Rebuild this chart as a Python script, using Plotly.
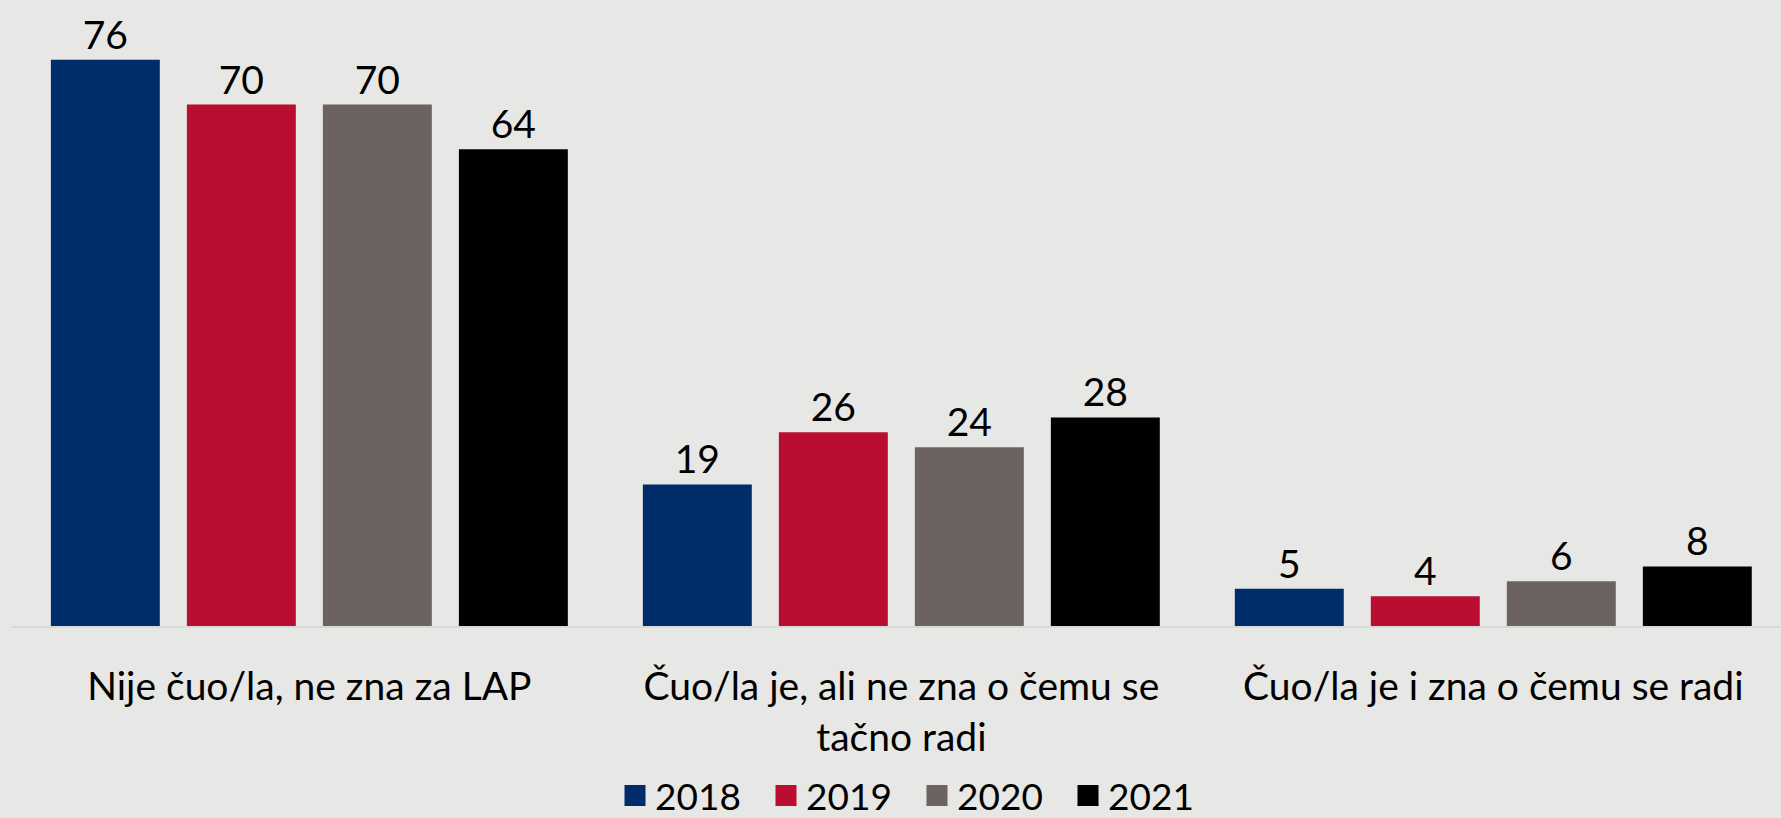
import plotly.graph_objects as go

categories = ["Nije čuo/la, ne zna za LAP",
              "Čuo/la je, ali ne zna o čemu se<br>tačno radi",
              "Čuo/la je i zna o čemu se radi"]
years = ["2018", "2019", "2020", "2021"]
values = {
    "2018": [76, 19, 5],
    "2019": [70, 26, 4],
    "2020": [70, 24, 6],
    "2021": [64, 28, 8],
}
colors = {"2018": "#002D69", "2019": "#B90D31", "2020": "#6C6361", "2021": "#000000"}

FONT = "Lato"
BG = "#E7E7E5"
fig = go.Figure()
for y in years:
    fig.add_trace(go.Bar(
        name=y, x=categories, y=values[y],
        marker=dict(color=colors[y], line=dict(width=0)),
        text=values[y], textposition="outside",
        textfont=dict(family=FONT, size=39, color="#000"),
        cliponaxis=False, showlegend=False,
    ))
# legend entries (square swatches)
for y in years:
    fig.add_trace(go.Scatter(
        name=y, x=[None], y=[None], mode="markers",
        marker=dict(symbol="square", size=18, color=colors[y],
                    line=dict(width=5, color=colors[y])),
        showlegend=True,
    ))

fig.update_layout(
    width=1781, height=818,
    paper_bgcolor=BG, plot_bgcolor=BG,
    margin=dict(l=11, r=0, t=30, b=192, autoexpand=False),
    barmode="group", bargap=0.081, bargroupgap=0.199,
    font=dict(family=FONT, color="#000"),
    showlegend=True,
    legend=dict(orientation="h", x=(615 - 11) / 1770, xanchor="left",
                yref="container", y=(818 - 796) / 818, yanchor="middle",
                font=dict(family=FONT, size=37, color="#000"), bgcolor="rgba(0,0,0,0)",
                traceorder="normal", entrywidth=106, itemwidth=30),
    xaxis=dict(range=[-0.504, 2.486], showline=True, linecolor="#D9D9D9", linewidth=2,
               ticks="", showgrid=False, tickfont=dict(family=FONT, size=39, color="#000"),
               ticklabelstandoff=25, automargin=False),
    yaxis=dict(range=[0, 80], visible=False, showgrid=False, zeroline=False),
)

fig.write_html(
    "out.html",
    config={"displayModeBar": False},
    post_script=f"document.body.style.margin='0';document.body.style.background='{BG}';"
                "document.body.style.overflow='hidden';",
)
